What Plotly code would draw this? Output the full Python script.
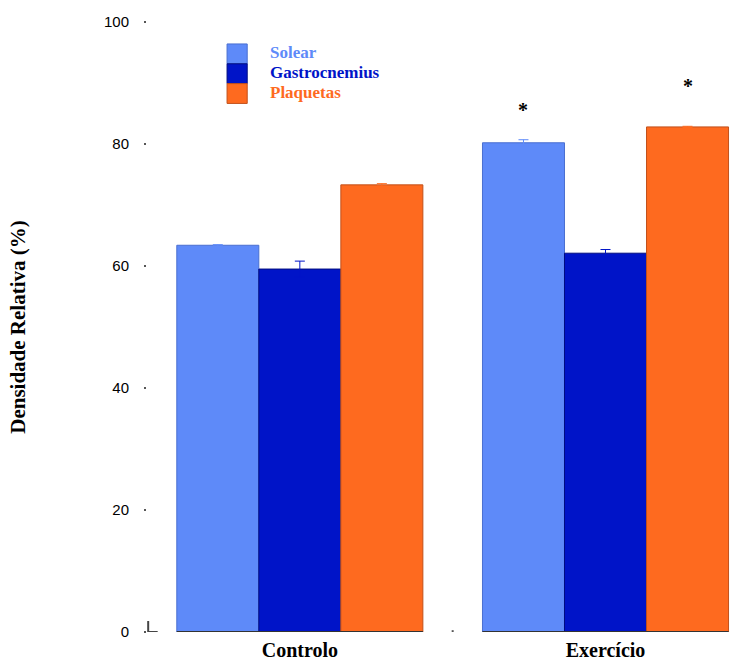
import plotly.graph_objects as go

# Relative density per group and tissue
groups = ["Controlo", "Exercício"]
series_names = ["Solear", "Gastrocnemius", "Plaquetas"]
solear = [63.4, 80.2]
gastrocnemius = [59.5, 62.1]
plaquetas = [73.3, 82.8]
solear_err = [0.1, 0.5]
gastrocnemius_err = [1.3, 0.6]
plaquetas_err = [0.2, 0.1]
y_ticks = [0, 20, 40, 60, 80, 100]

# significance markers (group, series, y position)
stars = [("Exercício", 0, 85.6), ("Exercício", 2, 89.5)]

colors = ["#5e8af9", "#0014c8", "#fe6a1f"]
edge_colors = ["#4a6fd0", "#000d80", "#c2501a"]
values = [solear, gastrocnemius, plaquetas]
errors = [solear_err, gastrocnemius_err, plaquetas_err]

serif_bold = dict(family="Liberation Serif", weight="bold")

fig = go.Figure()
for name, vals, errs, col, edge in zip(series_names, values, errors, colors, edge_colors):
    fig.add_trace(go.Bar(
        x=groups, y=vals, name=name,
        marker=dict(color=col, line=dict(color=edge, width=1)),
        error_y=dict(type="data", array=errs, color=col, thickness=1, width=5, visible=True),
        showlegend=False,
    ))

bargap = 0.195
n = len(series_names)
group_half = (1 - bargap) / 2
bar_w = (1 - bargap) / n

shapes = []
# baseline under each group of bars
for i in range(len(groups)):
    shapes.append(dict(type="line", xref="x", yref="y",
                       x0=i - group_half, x1=i + group_half, y0=0, y1=0,
                       line=dict(color="#333333", width=2)))
# small corner mark at the origin
shapes.append(dict(type="line", xref="x domain", yref="y",
                   x0=0.002, x1=0.002, y0=0, y1=1.8, line=dict(color="#444444", width=2)))
shapes.append(dict(type="line", xref="x domain", yref="y",
                   x0=0.002, x1=0.018, y0=0, y1=0, line=dict(color="#444444", width=2)))
# tick between the two groups
shapes.append(dict(type="line", xref="x", yref="y",
                   x0=0.5, x1=0.5, y0=0, y1=0.3, line=dict(color="#555555", width=2)))

annotations = []
for g, s, yv in stars:
    gi = groups.index(g)
    xc = gi - group_half + bar_w * (s + 0.5)
    annotations.append(dict(x=xc, y=yv, xref="x", yref="y", text="*", showarrow=False,
                            font=dict(size=20, color="black", **serif_bold)))

# legend: stacked colour swatches with coloured labels
leg_top = 0.964
leg_step = 0.0325
for k, (name, col, edge) in enumerate(zip(series_names, colors, edge_colors)):
    y1 = leg_top - k * leg_step
    y0 = y1 - leg_step
    shapes.append(dict(type="rect", xref="paper", yref="paper",
                       x0=0.135, x1=0.169, y0=y0, y1=y1,
                       fillcolor=col, line=dict(color=edge, width=1)))
    annotations.append(dict(x=0.205, y=(y0 + y1) / 2 + 0.002, xref="paper", yref="paper",
                            text=name, showarrow=False, xanchor="left", yanchor="middle",
                            borderpad=0,
                            font=dict(size=17, color=col, **serif_bold)))

fig.update_layout(
    width=754, height=663,
    margin=dict(l=147, r=14, t=22, b=31),
    paper_bgcolor="white", plot_bgcolor="white",
    barmode="group", bargap=bargap, bargroupgap=0,
    shapes=shapes, annotations=annotations,
    xaxis=dict(
        type="category", range=[-0.5, 1.44], automargin=False,
        showline=False, showgrid=False, zeroline=False, ticks="",
        tickfont=dict(size=20, color="black", **serif_bold),
        ticklabelstandoff=4,
    ),
    yaxis=dict(
        range=[0, 100], tickvals=y_ticks, automargin=False,
        showline=False, showgrid=False, zeroline=False,
        ticks="outside", ticklen=2, tickwidth=2, tickcolor="#555555",
        ticklabelstandoff=12,
        tickfont=dict(size=15, color="black", family="Liberation Sans"),
        title=dict(text="Densidade Relativa (%)", standoff=72,
                   font=dict(size=21, color="black", **serif_bold)),
    ),
)

fig.write_html("out.html")
